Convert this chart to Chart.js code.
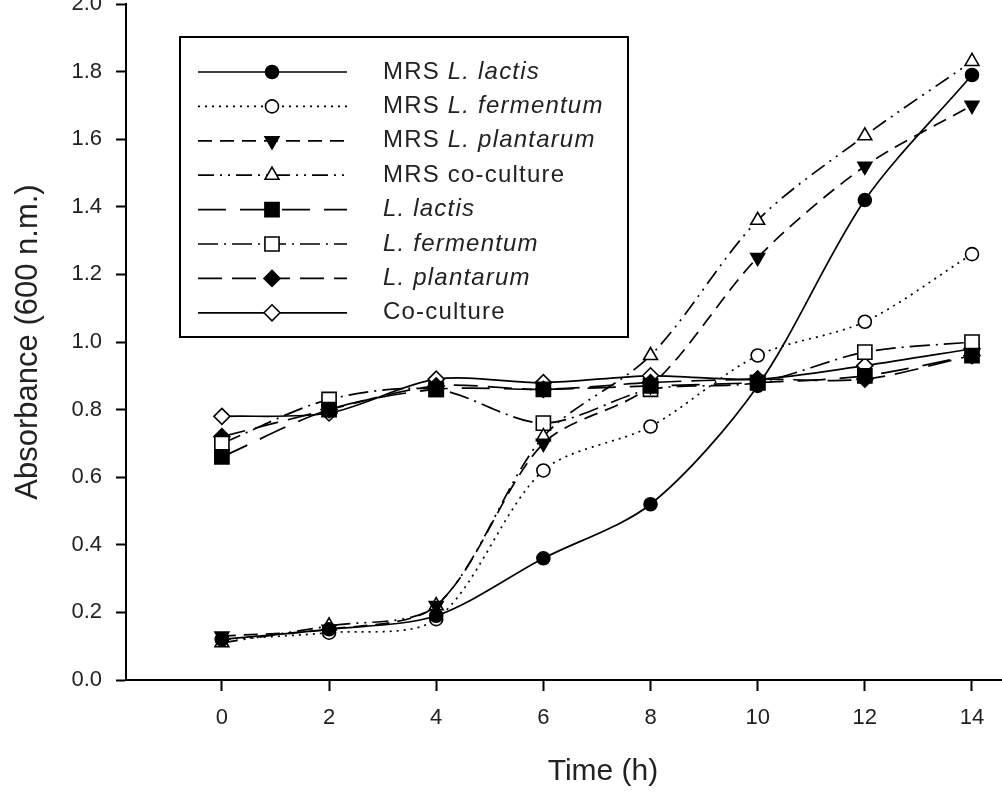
<!DOCTYPE html>
<html>
<head>
<meta charset="utf-8">
<script src="https://cdn.jsdelivr.net/npm/chart.js@4/dist/chart.umd.min.js"></script>
<style>
  html, body { margin: 0; padding: 0; background: #fff; }
  #wrap { width: 1002px; height: 795px; position: relative; }
</style>
</head>
<body>
<div id="wrap"><canvas id="c" width="1002" height="795"></canvas></div>
<script>
// ---- Data ----
const hours = [0, 2, 4, 6, 8, 10, 12, 14];
const xTickValues = [0, 2, 4, 6, 8, 10, 12, 14];
const yTickValues = [0.0, 0.2, 0.4, 0.6, 0.8, 1.0, 1.2, 1.4, 1.6, 1.8, 2.0];

const mrsLactis     = [0.12, 0.15, 0.19, 0.36, 0.52, 0.87, 1.42, 1.79];
const mrsFermentum  = [0.12, 0.14, 0.18, 0.62, 0.75, 0.96, 1.06, 1.26];
const mrsPlantarum  = [0.13, 0.15, 0.22, 0.70, 0.87, 1.25, 1.52, 1.70];
const mrsCoculture  = [0.11, 0.16, 0.22, 0.72, 0.96, 1.36, 1.61, 1.83];
const lactis        = [0.66, 0.80, 0.86, 0.86, 0.87, 0.88, 0.90, 0.96];
const fermentum     = [0.70, 0.83, 0.86, 0.76, 0.86, 0.88, 0.97, 1.00];
const plantarum     = [0.72, 0.80, 0.87, 0.86, 0.88, 0.89, 0.89, 0.96];
const coculture     = [0.78, 0.79, 0.89, 0.88, 0.90, 0.89, 0.93, 0.98];

// legend label parts: [regular prefix, italic part, regular suffix]
const seriesLabels = [
  ['MRS ', 'L. lactis', ''],
  ['MRS ', 'L. fermentum', ''],
  ['MRS ', 'L. plantarum', ''],
  ['MRS co-culture', '', ''],
  ['', 'L. lactis', ''],
  ['', 'L. fermentum', ''],
  ['', 'L. plantarum', ''],
  ['Co-culture', '', '']
];
const xTitle = 'Time (h)';
const yTitle = 'Absorbance (600 n.m.)';

const FONT = '"Liberation Sans", Arial, Helvetica, sans-serif';

function mk(idx, data, style, radius, filled, dash, rotation) {
  return {
    label: seriesLabels[idx].join(''),
    data: hours.map((h, i) => ({ x: h, y: data[i] })),
    borderColor: '#000', borderWidth: 1.7, borderDash: dash, tension: 0.3, fill: false,
    pointStyle: style, pointRadius: radius, pointHoverRadius: radius, pointRotation: rotation || 0,
    pointBackgroundColor: filled ? '#000' : '#fff', pointBorderColor: '#000', pointBorderWidth: 1.6
  };
}

const datasets = [
  mk(0, mrsLactis,    'circle',   6.5, true,  []),
  mk(1, mrsFermentum, 'circle',   6.5, false, [2, 5]),
  mk(2, mrsPlantarum, 'triangle', 8,   true,  [14, 8], 180),
  mk(3, mrsCoculture, 'triangle', 8,   false, [16, 6, 2, 6, 2, 6]),
  mk(4, lactis,       'rect',     10,  true,  [28, 14]),
  mk(5, fermentum,    'rect',     10,  false, [20, 6, 2, 6]),
  mk(6, plantarum,    'rectRot',  8,   true,  [24, 10]),
  mk(7, coculture,    'rectRot',  8,   false, [])
];

function drawMarker(ctx, style, r, filled, rotation, x, y) {
  ctx.save();
  ctx.beginPath();
  ctx.fillStyle = filled ? '#000' : '#fff';
  ctx.strokeStyle = '#000';
  ctx.lineWidth = 1.6;
  ctx.setLineDash([]);
  if (style === 'circle') {
    ctx.arc(x, y, r, 0, Math.PI * 2);
  } else if (style === 'triangle') {
    const rot = (rotation || 0) * Math.PI / 180;
    for (let k = 0; k < 3; k++) {
      const a = rot - Math.PI / 2 + k * 2 * Math.PI / 3;
      const px = x + Math.cos(a) * r, py = y + Math.sin(a) * r;
      if (k === 0) ctx.moveTo(px, py); else ctx.lineTo(px, py);
    }
    ctx.closePath();
  } else if (style === 'rect') {
    const s = Math.SQRT1_2 * r;
    ctx.rect(x - s, y - s, 2 * s, 2 * s);
  } else if (style === 'rectRot') {
    ctx.moveTo(x, y - r); ctx.lineTo(x + r, y); ctx.lineTo(x, y + r); ctx.lineTo(x - r, y);
    ctx.closePath();
  }
  ctx.fill();
  ctx.stroke();
  ctx.restore();
}

// keep tick-label overhang from shrinking the plot area
const noScalePadding = {
  id: 'noScalePadding',
  beforeLayout(chart) {
    Object.values(chart.scales).forEach(s => {
      s.getPadding = () => ({ left: 0, top: 0, right: 0, bottom: 0 });
    });
  }
};

const customLegend = {
  id: 'customLegend',
  afterDraw(chart) {
    const ctx = chart.ctx;
    ctx.save();
    ctx.strokeStyle = '#000';
    ctx.lineWidth = 2;
    ctx.fillStyle = '#fff';
    ctx.fillRect(180, 37, 448, 300);
    ctx.strokeRect(180, 37, 448, 300);
    const y0 = 72, dy = 34.4;
    chart.data.datasets.forEach((ds, i) => {
      const y = y0 + dy * i;
      ctx.save();
      ctx.strokeStyle = '#000';
      ctx.lineWidth = 1.7;
      ctx.setLineDash(ds.borderDash || []);
      ctx.beginPath();
      ctx.moveTo(198, y);
      ctx.lineTo(347, y);
      ctx.stroke();
      ctx.restore();
      drawMarker(ctx, ds.pointStyle, ds.pointRadius, ds.pointBackgroundColor === '#000', ds.pointRotation, 272, y);
      const parts = seriesLabels[i];
      let x = 383;
      ctx.save();
      try { ctx.letterSpacing = '1.2px'; } catch (e) {}
      ctx.fillStyle = '#222';
      ctx.textBaseline = 'middle';
      ctx.textAlign = 'left';
      ctx.font = '24px ' + FONT;
      ctx.fillText(parts[0], x, y);
      x += ctx.measureText(parts[0]).width;
      ctx.font = 'italic 24px ' + FONT;
      ctx.fillText(parts[1], x, y);
      x += ctx.measureText(parts[1]).width;
      ctx.font = '24px ' + FONT;
      ctx.fillText(parts[2], x, y);
      ctx.restore();
    });
    ctx.fillStyle = '#222';
    ctx.font = '30px ' + FONT;
    ctx.textAlign = 'center';
    ctx.textBaseline = 'middle';
    ctx.fillText(xTitle, 603, 772);
    ctx.restore();
  }
};

new Chart(document.getElementById('c'), {
  type: 'line',
  data: { datasets },
  options: {
    responsive: false,
    animation: false,
    events: [],
    layout: { autoPadding: false, padding: { top: 4, right: 0, bottom: 0, left: 0 } },
    plugins: { legend: { display: false }, tooltip: { enabled: false }, title: { display: false } },
    scales: {
      x: {
        type: 'linear', min: -1.79, max: 14.56,
        afterBuildTicks(scale) { scale.ticks = xTickValues.map(v => ({ value: v })); },
        afterFit(scale) { scale.height = 115; },
        grid: { display: true, drawOnChartArea: false, drawTicks: true, tickLength: 11, tickWidth: 2, tickColor: '#000', color: '#000' },
        border: { display: true, color: '#000', width: 2 },
        ticks: { color: '#222', font: { family: FONT, size: 22 }, padding: 14, maxRotation: 0, autoSkip: false, callback: v => String(v) },
        title: { display: false }
      },
      y: {
        type: 'linear', min: 0, max: 2.0,
        afterBuildTicks(scale) { scale.ticks = yTickValues.map(v => ({ value: v })); },
        afterFit(scale) { scale.width = 126; },
        grid: { display: true, drawOnChartArea: false, drawTicks: true, tickLength: 10, tickWidth: 2, tickColor: '#000', color: '#000' },
        border: { display: true, color: '#000', width: 2 },
        ticks: { color: '#222', font: { family: FONT, size: 22 }, padding: 14, autoSkip: false, callback: v => Number(v).toFixed(1) },
        title: { display: true, text: yTitle, color: '#222', font: { family: FONT, size: 31 }, padding: { top: 10, bottom: 0 } }
      }
    }
  },
  plugins: [noScalePadding, customLegend]
});
</script>
</body>
</html>
